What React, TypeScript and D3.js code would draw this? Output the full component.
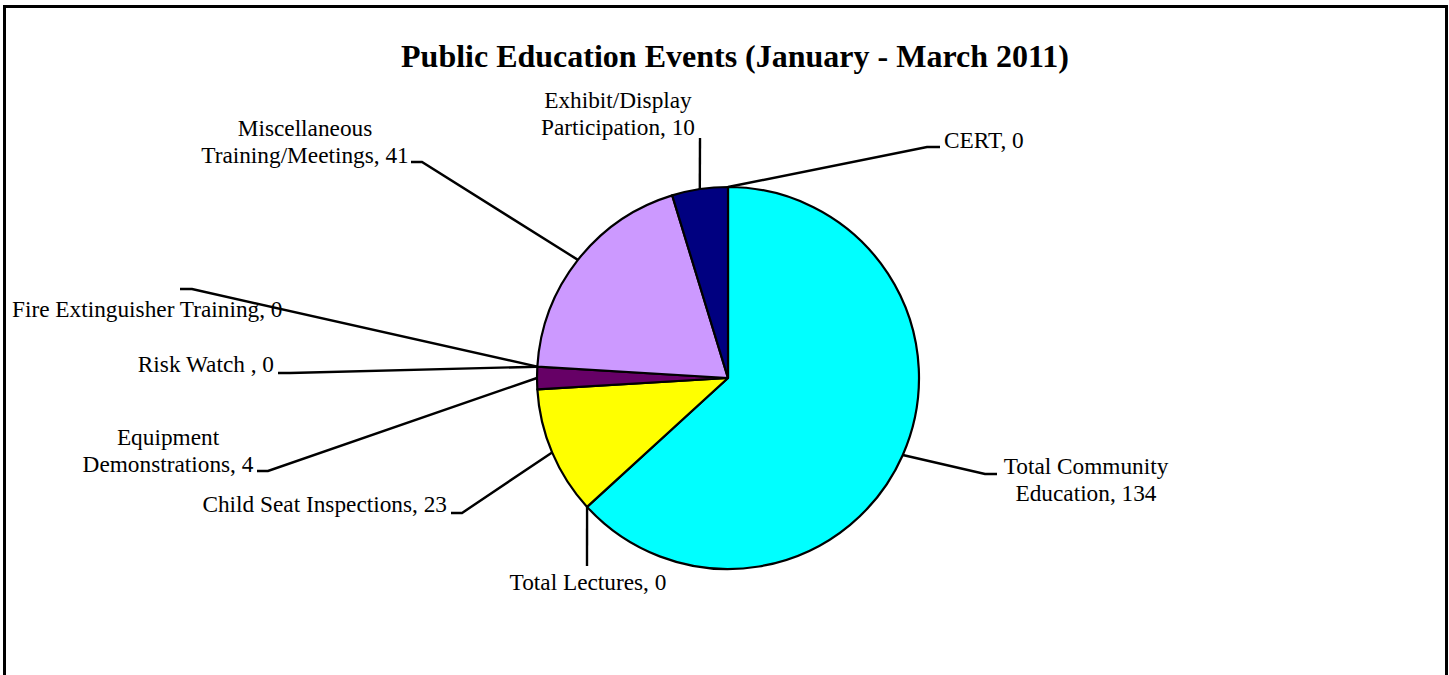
import React from "react";
import * as d3 from "d3";

// ---- data ----
const categories = [
  "Total Community Education",
  "Total Lectures",
  "Child Seat Inspections",
  "Equipment Demonstrations",
  "Risk Watch ",
  "Fire Extinguisher Training",
  "Miscellaneous Training/Meetings",
  "Exhibit/Display Participation",
  "CERT",
];
const values = [134, 0, 23, 4, 0, 0, 41, 10, 0];
const colors = [
  "#00FFFF",
  "#FFFFFF",
  "#FFFF00",
  "#660066",
  "#FF8080",
  "#0066CC",
  "#CC99FF",
  "#000080",
  "#CCCCFF",
];
const title = "Public Education Events (January - March 2011)";

// ---- layout (label placement, as dragged in the source) ----
type LabelLayout = {
  x: number;
  y: number;
  anchor: "start" | "middle" | "end";
  wrap: number; // words on first line (0 = no wrap)
  elbow: [number, number];
  end: [number, number];
};
const labelLayout: LabelLayout[] = [
  { x: 1086, y: 474, anchor: "middle", wrap: 2, elbow: [985, 474], end: [997, 474] },
  { x: 588, y: 590, anchor: "middle", wrap: 0, elbow: [587, 566], end: [587, 566] },
  { x: 447, y: 512, anchor: "end", wrap: 0, elbow: [462, 513], end: [451, 513] },
  { x: 168, y: 445, anchor: "middle", wrap: 1, elbow: [268, 471], end: [257, 471] },
  { x: 274, y: 372, anchor: "end", wrap: 0, elbow: [290, 373], end: [278, 373] },
  { x: 12, y: 317, anchor: "start", wrap: 0, elbow: [192, 289], end: [180, 289] },
  { x: 305, y: 136, anchor: "middle", wrap: 1, elbow: [422, 162], end: [411, 162] },
  { x: 618, y: 108, anchor: "middle", wrap: 1, elbow: [700, 138], end: [700, 138] },
  { x: 944, y: 148, anchor: "start", wrap: 0, elbow: [927, 147], end: [940, 147] },
];

const W = 1449;
const H = 675;
const cx = 728;
const cy = 378;
const R = 191;
const FONT = "'Liberation Serif', 'Times New Roman', serif";

export default function App() {
  const pie = d3
    .pie<number>()
    .sort(null)
    .startAngle(0)
    .endAngle(2 * Math.PI)
    .value((d) => d);
  const arcs = pie(values);
  const arc = d3.arc<d3.PieArcDatum<number>>().innerRadius(0).outerRadius(R);

  const edgePoint = (a: d3.PieArcDatum<number>): [number, number] => {
    const m = (a.startAngle + a.endAngle) / 2;
    return [cx + R * Math.sin(m), cy - R * Math.cos(m)];
  };

  return (
    <svg
      width={W}
      height={H}
      style={{ position: "absolute", left: 0, top: 0, background: "#fff" }}
    >
      <rect x={4.5} y={6.5} width={1442} height={H + 20} fill="#fff" stroke="#000" strokeWidth={3} />
      <text
        x={735}
        y={67}
        textAnchor="middle"
        fontFamily={FONT}
        fontWeight="bold"
        fontSize={32}
        fill="#000"
      >
        {title}
      </text>
      <g transform={`translate(${cx},${cy})`}>
        {arcs.map((a, i) =>
          a.endAngle - a.startAngle > 0 ? (
            <path key={i} d={arc(a) || ""} fill={colors[i]} stroke="#000" strokeWidth={2.2} strokeLinejoin="round" />
          ) : null
        )}
      </g>
      {arcs.map((a, i) => {
        const L = labelLayout[i];
        const p = edgePoint(a);
        const pts: [number, number][] = [p, L.elbow, L.end];
        const line = d3.line()(pts) || "";
        return <path key={"l" + i} d={line} fill="none" stroke="#000" strokeWidth={2.4} />;
      })}
      {arcs.map((a, i) => {
        const L = labelLayout[i];
        const full = `${categories[i]}, ${values[i]}`;
        let lines = [full];
        if (L.wrap > 0) {
          const words = full.split(" ");
          lines = [words.slice(0, L.wrap).join(" "), words.slice(L.wrap).join(" ")];
        }
        return (
          <text
            key={"t" + i}
            x={L.x}
            y={L.y}
            textAnchor={L.anchor}
            fontFamily={FONT}
            fontSize={23.3}
            fill="#000"
            style={{ whiteSpace: "pre" }}
          >
            {lines.map((s, j) => (
              <tspan key={j} x={L.x} dy={j === 0 ? 0 : 27}>
                {s}
              </tspan>
            ))}
          </text>
        );
      })}
    </svg>
  );
}
